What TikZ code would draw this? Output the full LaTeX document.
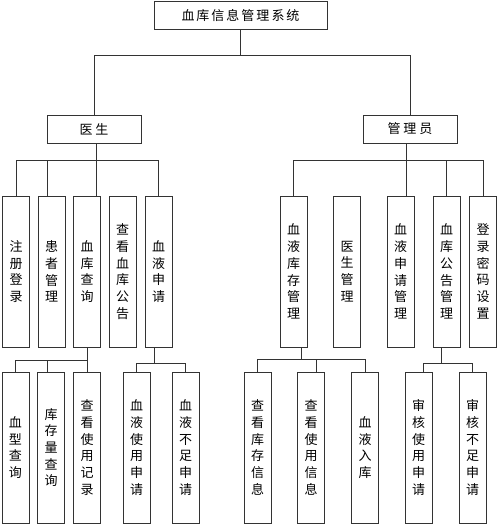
\documentclass[tikz,border=0pt]{standalone}
\usepackage{fontspec}
\newfontfamily\cjk{Noto Sans CJK SC}
\begin{document}
\begin{tikzpicture}[x=1pt,y=-1pt,
  box/.style={draw=black!80,line width=1pt,fill=white,inner sep=0pt,font=\cjk\fontsize{13pt}{16.7pt}\selectfont,align=center},
  hbox/.style={box,minimum width=94pt,minimum height=28pt},
  vbox/.style={box,minimum width=27pt,minimum height=151pt},
  conn/.style={draw=black!80,line width=0.8pt}]
\useasboundingbox (0,0) rectangle (500,527);
% top
\node[box,minimum width=173pt,minimum height=28pt] (top) at (240.5,16) {血\hspace{2pt}库\hspace{2pt}信\hspace{2pt}息\hspace{2pt}管\hspace{2pt}理\hspace{2pt}系\hspace{2pt}统};
\node[hbox] (doc) at (94,129) {医\hspace{3pt}生};
\node[hbox] (adm) at (410,129) {管\hspace{3pt}理\hspace{3pt}员};
% level 2
\node[vbox] (reg) at (16,271.5) {注\\册\\登\\录};
\node[vbox] (pat) at (51.5,271.5) {患\\者\\管\\理};
\node[vbox] (bq) at (87,271.5) {血\\库\\查\\询};
\node[vbox] (notice) at (122.5,271.5) {查\\看\\血\\库\\公\\告};
\node[vbox] (apply) at (158.5,271.5) {血\\液\\申\\请};
\node[vbox] (stock) at (293.5,271.5) {血\\液\\库\\存\\管\\理};
\node[vbox] (docm) at (347,271.5) {医\\生\\管\\理};
\node[vbox] (applym) at (400.5,271.5) {血\\液\\申\\请\\管\\理};
\node[vbox] (noticem) at (446.5,271.5) {血\\库\\公\\告\\管\\理};
\node[vbox] (pwd) at (483,271.5) {登\\录\\密\\码\\设\\置};
% level 3
\node[vbox] (bt) at (15.5,447.5) {血\\型\\查\\询};
\node[vbox] (kc) at (51,447.5) {库\\存\\量\\查\\询};
\node[vbox] (rec) at (87,447.5) {查\\看\\使\\用\\记\\录};
\node[vbox] (use) at (136.5,447.5) {血\\液\\使\\用\\申\\请};
\node[vbox] (lack) at (185.5,447.5) {血\\液\\不\\足\\申\\请};
\node[vbox] (vs) at (257.5,447.5) {查\\看\\库\\存\\信\\息};
\node[vbox] (vu) at (311,447.5) {查\\看\\使\\用\\信\\息};
\node[vbox] (inb) at (365,447.5) {血\\液\\入\\库};
\node[vbox] (au) at (418.5,447.5) {审\\核\\使\\用\\申\\请};
\node[vbox] (al) at (472.5,447.5) {审\\核\\不\\足\\申\\请};
% connectors
\draw[conn] (top.south) -- ++(0,25) coordinate (j0);
\draw[conn] (doc.north) |- (j0) -| (adm.north);
% doctor
\coordinate (jd) at ([xshift=2pt,yshift=-17pt]doc.south);
\draw[conn] ([xshift=2pt]doc.south) -- ([xshift=9pt]bq.north);
\draw[conn] (reg.north) |- (jd) -| (apply.north);
\draw[conn] ([xshift=-4.5pt]pat.north) -- ([xshift=-4.5pt]pat.north |- jd);
% admin
\draw[conn] ([xshift=-4pt]adm.south) -- ++(0,17) coordinate (ja);
\draw[conn] (stock.north) |- (ja) -| (pwd.north);
\draw[conn] ([xshift=5.5pt]applym.north) -- ([xshift=5.5pt]applym.north |- ja);
\draw[conn] (noticem.north) -- (noticem.north |- ja);
% blood query
\draw[conn] (bq.south) -- ++(0,13) coordinate (jb);
\draw[conn] (bt.north) |- (jb) -- (rec.north);
\draw[conn] ([xshift=-4pt]kc.north) -- ([xshift=-4pt]kc.north |- jb);
% apply
\draw[conn] ([xshift=-4.5pt]apply.south) -- ++(0,16) coordinate (jp);
\draw[conn] (use.north) |- (jp) -| (lack.north);
% stock
\draw[conn] ([xshift=7.5pt]stock.south) -- ++(0,12) coordinate (js);
\draw[conn] (vs.north) |- (js) -| (inb.north);
\draw[conn] ([xshift=5pt]vu.north) -- ([xshift=5pt]vu.north |- js);
% notice mgmt
\draw[conn] ([xshift=-5.5pt]noticem.south) -- ++(0,16) coordinate (jn);
\draw[conn] ([xshift=4.5pt]au.north) |- (jn) -| (al.north);
\end{tikzpicture}
\end{document}
